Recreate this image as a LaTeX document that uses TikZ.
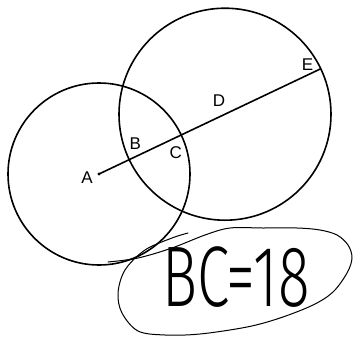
\documentclass[tikz,border=0pt]{standalone}
\usepackage{fontspec}
\setmainfont{Liberation Sans}
\newfontfamily\handfont{Fira Sans Light}[FakeStretch=0.68]
\usetikzlibrary{calc}
\begin{document}
\begin{tikzpicture}[x=1pt,y=-1pt,
  geo/.style={line width=1.6pt,black},
  lbl/.style={inner sep=0pt,font=\fontsize{17}{19}\selectfont},
  hand/.style={line width=1pt,black,line cap=round,line join=round}]
\useasboundingbox (0,0) rectangle (355,337);
% points
\coordinate (A) at (99,174);
\coordinate (D) at (225,114.2);
\coordinate (E) at ($(D)!106pt!180:(A)$);
\coordinate (C) at ($(A)!91pt!(D)$);
\coordinate (B) at ($(D)!106pt!(A)$);
% circles
\draw[geo] (A) circle[radius=91pt];
\draw[geo] (D) circle[radius=106pt];
% segment
\draw[geo] (A) -- (E);
\fill (A) circle[radius=1.6pt];
% labels
\node[lbl] (lA) at (87,178) {A};
\node[lbl] (lB) at (135.2,143.8) {B};
\node[lbl] (lC) at (175.8,152.8) {C};
\node[lbl] (lD) at (219,100.8) {D};
\node[lbl] (lE) at (307.5,64.2) {E};
% handwritten note
\node[inner sep=0pt,font=\handfont\fontsize{86}{90}\selectfont] (note) at (236,277) {BC=18};
\draw[hand] plot[smooth,tension=0.55] coordinates {
  (108,262) (138,258) (172,248) (205,235) (230,228) (263,228) (297,228)
  (320,230) (337,235) (348,245) (352,258) (347,273) (333,292) (313,305)
  (280,318) (247,327) (200,334) (165,335) (138,331) (122,313) (118,293)
  (125,270) (145,250) (172,238) (188,233)};
\end{tikzpicture}
\end{document}
